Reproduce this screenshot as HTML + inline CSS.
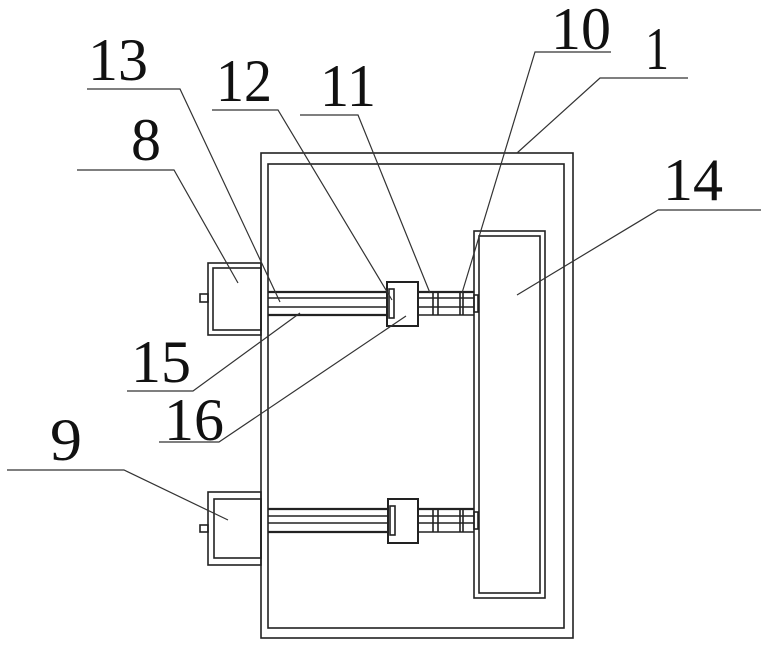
<!DOCTYPE html>
<html><head><meta charset="utf-8"><style>
html,body{margin:0;padding:0;background:#fff;}
svg{display:block;}
text{font-family:"Liberation Serif",serif;font-size:60px;fill:#111;}
</style></head><body>
<svg width="769" height="647" viewBox="0 0 769 647" xmlns="http://www.w3.org/2000/svg">
<g fill="none" stroke="#222" stroke-width="1.6">
<!-- frame -->
<rect x="261" y="153" width="312" height="485"/>
<rect x="268" y="164" width="296" height="464"/>
<!-- panel 14 -->
<rect x="474" y="231" width="71" height="367"/>
<rect x="479" y="236" width="61" height="357"/>
<!-- top assembly -->
<rect x="208" y="263" width="53" height="72"/>
<rect x="213" y="268" width="48" height="62"/>
<rect x="200" y="294" width="8" height="8"/>
<line x1="268" y1="292" x2="387" y2="292" stroke-width="2.2"/>
<line x1="268" y1="298" x2="387" y2="298"/>
<line x1="268" y1="307" x2="387" y2="307"/>
<line x1="268" y1="315" x2="387" y2="315" stroke-width="2.2"/>
<rect x="387" y="282" width="31" height="44" stroke-width="2"/>
<rect x="389" y="289" width="5" height="29"/>
<line x1="418" y1="292" x2="474" y2="292" stroke-width="2.2"/>
<line x1="418" y1="298" x2="474" y2="298"/>
<line x1="418" y1="307" x2="474" y2="307"/>
<line x1="418" y1="315" x2="474" y2="315"/>
<line x1="433" y1="292" x2="433" y2="315"/>
<line x1="438" y1="292" x2="438" y2="315"/>
<line x1="460" y1="292" x2="460" y2="315"/>
<line x1="463" y1="292" x2="463" y2="315"/>
<rect x="474" y="295" width="4" height="17"/>
<!-- bottom assembly -->
<rect x="208" y="492" width="53" height="73"/>
<rect x="214" y="499" width="47" height="59"/>
<rect x="200" y="525" width="8" height="7"/>
<line x1="268" y1="509" x2="387" y2="509" stroke-width="2.2"/>
<line x1="268" y1="516" x2="387" y2="516"/>
<line x1="268" y1="523" x2="387" y2="523"/>
<line x1="268" y1="532" x2="387" y2="532" stroke-width="2.2"/>
<rect x="388" y="499" width="30" height="44" stroke-width="2"/>
<rect x="390" y="506" width="5" height="29"/>
<line x1="418" y1="509" x2="474" y2="509" stroke-width="2.2"/>
<line x1="418" y1="516" x2="474" y2="516"/>
<line x1="418" y1="523" x2="474" y2="523"/>
<line x1="418" y1="532" x2="474" y2="532"/>
<line x1="433" y1="509" x2="433" y2="532"/>
<line x1="438" y1="509" x2="438" y2="532"/>
<line x1="460" y1="509" x2="460" y2="532"/>
<line x1="463" y1="509" x2="463" y2="532"/>
<rect x="474" y="512" width="4" height="17"/>
</g>
<!-- leaders -->
<g fill="none" stroke="#333" stroke-width="1.2">
<polyline points="87,89 180,89 280,302"/>
<polyline points="212,110 278,110 392,300"/>
<polyline points="300,115 358,115 430,293"/>
<polyline points="77,170 174,170 238,283"/>
<polyline points="611,52 535,52 462,293"/>
<polyline points="688,78 600,78 517,153"/>
<polyline points="761,210 658,210 517,295"/>
<polyline points="127,391 193,391 300,313"/>
<polyline points="159,442 219,442 406,316"/>
<polyline points="7,470 124,470 228,520"/>
</g>
<g>
<text x="88" y="80" textLength="60" lengthAdjust="spacingAndGlyphs">13</text>
<text x="216" y="101" textLength="56" lengthAdjust="spacingAndGlyphs">12</text>
<text x="320" y="106" textLength="56" lengthAdjust="spacingAndGlyphs">11</text>
<text x="131" y="160" textLength="30" lengthAdjust="spacingAndGlyphs">8</text>
<text x="551" y="49" textLength="60" lengthAdjust="spacingAndGlyphs">10</text>
<text x="645" y="69" textLength="24" lengthAdjust="spacingAndGlyphs">1</text>
<text x="663" y="200" textLength="60" lengthAdjust="spacingAndGlyphs">14</text>
<text x="131" y="382" textLength="60" lengthAdjust="spacingAndGlyphs">15</text>
<text x="164" y="440" textLength="60" lengthAdjust="spacingAndGlyphs">16</text>
<text x="50" y="460" textLength="32" lengthAdjust="spacingAndGlyphs">9</text>
</g>
</svg>
</body></html>
